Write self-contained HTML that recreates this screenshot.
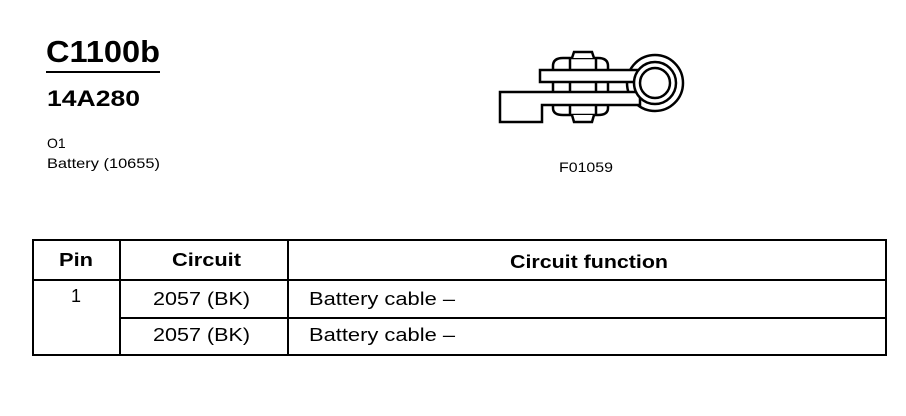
<!DOCTYPE html>
<html><head><style>body{margin:0;background:#fff}svg{display:block}</style></head><body>
<svg width="906" height="416" viewBox="0 0 906 416" xmlns="http://www.w3.org/2000/svg" font-family="Liberation Sans, Arial, sans-serif">
<text x="46" y="62" font-size="31" font-weight="bold" textLength="114" lengthAdjust="spacingAndGlyphs">C1100b</text>
<line x1="46" y1="72" x2="160" y2="72" stroke="#000" stroke-width="2"/>
<text x="47" y="106" font-size="22" font-weight="bold" textLength="93" lengthAdjust="spacingAndGlyphs">14A280</text>
<text x="47" y="148" font-size="14">O1</text>
<text x="47" y="168" font-size="14" textLength="113" lengthAdjust="spacingAndGlyphs">Battery (10655)</text>
<text x="559" y="172" font-size="14" textLength="54" lengthAdjust="spacingAndGlyphs">F01059</text>
<g fill="#fff" stroke="#000" stroke-width="2.5">
<circle cx="655" cy="83" r="28"/>
<path d="M553 66 Q553 58 563 58 L598 58 Q608 58 608 66 L608 108 Q608 115 598 115 L563 115 Q553 115 553 108 Z"/>
<path d="M572 115 L574 122 L592 122 L594 115"/>
<path d="M572 58 L574 52 L592 52 L594 58"/>
<line x1="570" y1="58" x2="570" y2="115"/><line x1="596" y1="58" x2="596" y2="115"/>
<path d="M500 92 L640 92 L640 105 L542 105 L542 122 L500 122 Z"/>
<path d="M540 70 L640 70 L640 82 L540 82 Z"/>
<circle cx="655" cy="83" r="21"/>
<circle cx="655" cy="83" r="15"/>
</g>
<g stroke="#000" stroke-width="2" fill="none">
<rect x="33" y="240" width="853" height="115"/>
<line x1="33" y1="280" x2="886" y2="280"/>
<line x1="120" y1="318" x2="886" y2="318"/>
<line x1="120" y1="240" x2="120" y2="355"/>
<line x1="288" y1="240" x2="288" y2="355"/>
</g>
<g font-size="18">
<text x="59" y="266" font-weight="bold" textLength="34" lengthAdjust="spacingAndGlyphs">Pin</text>
<text x="172" y="266" font-weight="bold" textLength="69" lengthAdjust="spacingAndGlyphs">Circuit</text>
<text x="510" y="268" font-weight="bold" textLength="158" lengthAdjust="spacingAndGlyphs">Circuit function</text>
<text x="76" y="302" text-anchor="middle">1</text>
<text x="153" y="305" textLength="97" lengthAdjust="spacingAndGlyphs">2057 (BK)</text>
<text x="153" y="341" textLength="97" lengthAdjust="spacingAndGlyphs">2057 (BK)</text>
<text x="309" y="305" textLength="146" lengthAdjust="spacingAndGlyphs">Battery cable –</text>
<text x="309" y="341" textLength="146" lengthAdjust="spacingAndGlyphs">Battery cable –</text>
</g>
</svg>
</body></html>
